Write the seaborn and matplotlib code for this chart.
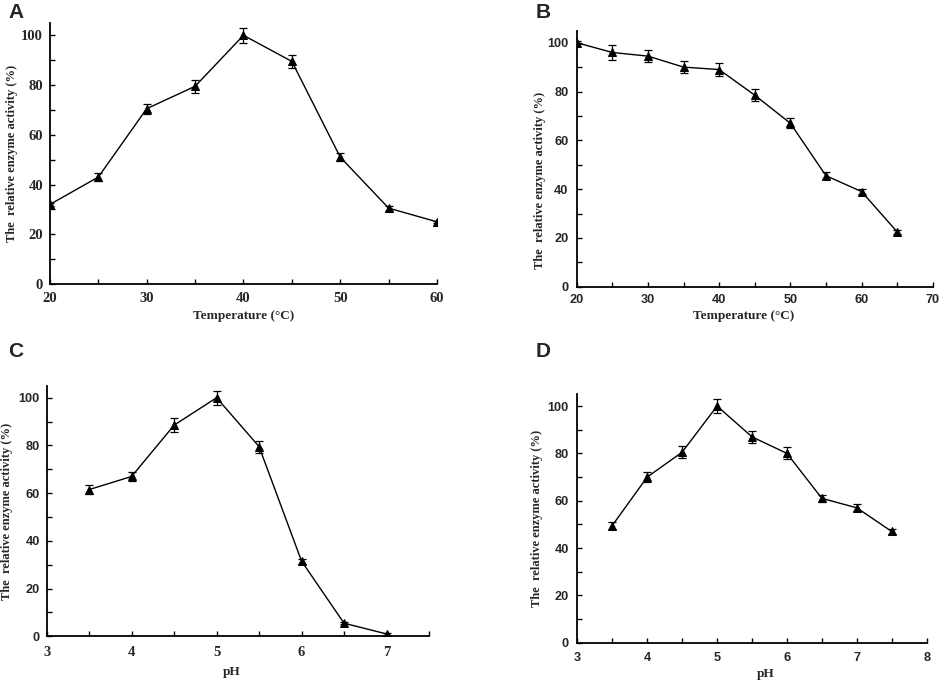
import numpy as np
import pandas as pd
import matplotlib
matplotlib.use("Agg")
import matplotlib.pyplot as plt
from matplotlib.ticker import MultipleLocator
import seaborn as sns

# Data
temp_a = [20, 25, 30, 35, 40, 45, 50, 55, 60]
act_a = [32, 43, 70.5, 79.5, 100, 89.5, 51, 30.5, 25]
err_a = [0.6, 1.5, 2, 2.5, 3, 2.5, 1.5, 1, 0.5]

temp_b = [20, 25, 30, 35, 40, 45, 50, 55, 60, 65]
act_b = [100, 96, 94.5, 90, 89, 78.5, 67, 45.5, 39, 22.5]
err_b = [0.5, 3, 2.5, 2.5, 2.5, 2.5, 2, 1.5, 1, 0.8]

ph_c = [3.5, 4, 4.5, 5, 5.5, 6, 6.5, 7]
act_c = [61.5, 67, 88.5, 100, 79.5, 31.5, 5.5, 1]
err_c = [2, 2, 3, 3, 2.5, 1, 0.5, 0.5]

ph_d = [3.5, 4, 4.5, 5, 5.5, 6, 6.5, 7, 7.5]
act_d = [49.5, 70, 80.5, 100, 87, 80, 61, 57, 47]
err_d = [1.5, 2, 2.5, 3, 2.5, 2.5, 1.5, 1.5, 1]

sns.set_style('ticks')
plt.rcParams['font.family'] = ['Liberation Serif', 'DejaVu Serif']

SERIF = 'Liberation Serif'
SANS = 'Liberation Sans'
YLAB = 'The  relative enzyme activity (%)'
TICK_SIZE = {SERIF: 10.5, SANS: 9.2}

fig = plt.figure(figsize=(9.41, 6.81), dpi=100)

panels = [
    dict(rect=[0.0531, 0.583, 0.4113, 0.3834], x=temp_a, y=act_a, e=err_a,
         xlim=(20, 60), xmaj=10, xmin=5, xlabel='Temperature (°C)',
         xfont=SERIF, yfont=SERIF, ylc=(-0.083, 0.5), xlc=(0.5, -0.10),
         xpad=6, ypad=5, letter='A', lpos=(8, 3)),
    dict(rect=[0.6129, 0.579, 0.3783, 0.3762], x=temp_b, y=act_b, e=err_b,
         xlim=(20, 70), xmaj=10, xmin=5, xlabel='Temperature (°C)',
         xfont=SANS, yfont=SANS, ylc=(-0.086, 0.416), xlc=(0.47, -0.09),
         xpad=5, ypad=6, letter='B', lpos=(536, 3)),
    dict(rect=[0.0496, 0.0656, 0.4063, 0.3679], x=ph_c, y=act_c, e=err_c,
         xlim=(3, 7.5), xmaj=1, xmin=0.5, xlabel='pH',
         xfont=SERIF, yfont=SANS, ylc=(-0.088, 0.5), xlc=(0.485, -0.12),
         xpad=7, ypad=5, letter='C', lpos=(8, 342)),
    dict(rect=[0.6135, 0.0562, 0.3713, 0.3649], x=ph_d, y=act_d, e=err_d,
         xlim=(3, 8), xmaj=1, xmin=0.5, xlabel='pH',
         xfont=SANS, yfont=SANS, ylc=(-0.098, 0.5), xlc=(0.54, -0.10),
         xpad=7, ypad=6, letter='D', lpos=(536, 342)),
]

for p in panels:
    ax = fig.add_axes(p['rect'])
    df = pd.DataFrame({'x': p['x'], 'y': p['y']})
    ax.errorbar(df['x'], df['y'], yerr=p['e'], fmt='none', ecolor='black',
                elinewidth=0.9, capsize=3, capthick=0.9, zorder=2)
    sns.lineplot(data=df, x='x', y='y', ax=ax, color='black', linewidth=1.0,
                 marker='^', markersize=5.5, markeredgecolor='black',
                 markerfacecolor='black', zorder=3)
    ax.set_xlim(*p['xlim'])
    ax.set_ylim(0, 105)
    ax.xaxis.set_major_locator(MultipleLocator(p['xmaj']))
    ax.xaxis.set_minor_locator(MultipleLocator(p['xmin']))
    ax.yaxis.set_major_locator(MultipleLocator(20))
    ax.yaxis.set_minor_locator(MultipleLocator(10))
    ax.tick_params(which='both', direction='in', length=3.5, width=1, color='black')
    ax.tick_params(axis='x', which='major', pad=p['xpad'])
    ax.tick_params(axis='y', which='major', pad=p['ypad'])
    for lab in ax.get_xticklabels():
        lab.set_fontfamily(p['xfont'])
        lab.set_fontweight('bold')
        lab.set_fontsize(TICK_SIZE[p['xfont']])
    for lab in ax.get_yticklabels():
        lab.set_fontfamily(p['yfont'])
        lab.set_fontweight('bold')
        lab.set_fontsize(TICK_SIZE[p['yfont']])
    for side in ['top', 'right']:
        ax.spines[side].set_visible(False)
    for side in ['left', 'bottom']:
        ax.spines[side].set_linewidth(1.3)
        ax.spines[side].set_color('black')
    ax.set_ylabel(YLAB, fontfamily=SERIF, fontweight='bold', fontsize=9)
    ax.set_xlabel(p['xlabel'], fontfamily=SERIF, fontweight='bold', fontsize=9.5)
    ax.yaxis.set_label_coords(*p['ylc'])
    ax.xaxis.set_label_coords(*p['xlc'])
    lx, ly = p['lpos']
    fig.text(lx / 941, 1 - ly / 681, p['letter'], fontfamily=SANS, fontweight='bold',
             fontsize=15, ha='left', va='top')

fig.savefig('out.png', dpi=100)
